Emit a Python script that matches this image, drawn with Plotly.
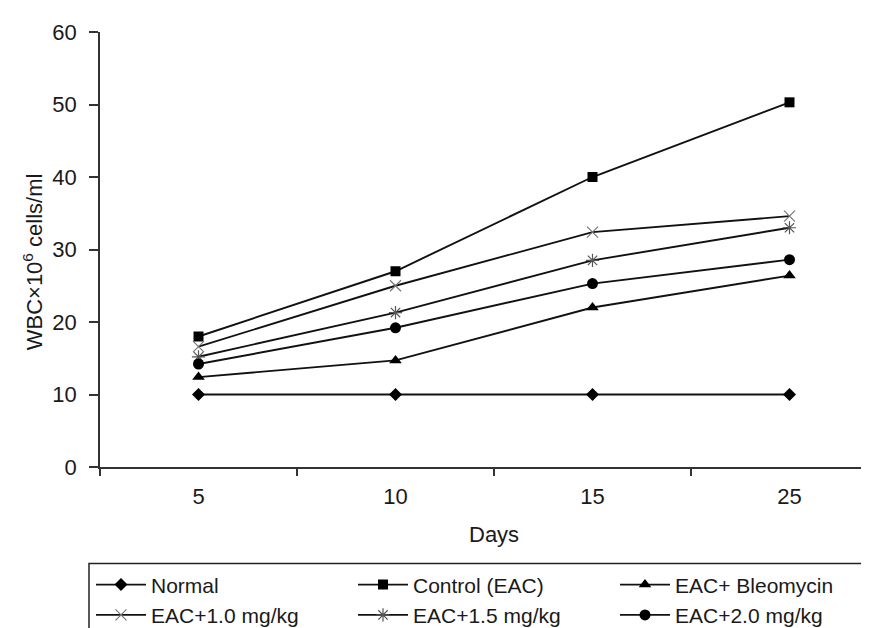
import plotly.graph_objects as go

days = ["5", "10", "15", "25"]
normal = [10.0, 10.0, 10.0, 10.0]
control = [18.0, 27.0, 40.0, 50.3]
bleomycin = [12.4, 14.7, 22.0, 26.4]
eac_1_0 = [16.6, 25.0, 32.4, 34.6]
eac_1_5 = [15.2, 21.3, 28.5, 33.0]
eac_2_0 = [14.2, 19.2, 25.3, 28.6]
y_ticks = [0, 10, 20, 30, 40, 50, 60]

FONT = "Liberation Sans, Arial, sans-serif"
W, H = 869, 628
ML, MR, MT, MB = 92, 0, 24, 162
PW = W - ML - MR
PH = H - MT - MB

def px_x(x):
    return (x - ML) / PW

def px_y(y):
    return (H - MB - y) / PH

series = [
    ("Normal", normal, dict(symbol="diamond", size=10, color="black")),
    ("Control (EAC)", control, dict(symbol="square", size=10, color="black")),
    ("EAC+ Bleomycin", bleomycin, dict(symbol="triangle-up", size=11, color="black")),
    ("EAC+1.0 mg/kg", eac_1_0, dict(symbol="x-thin-open", size=11, color="#777777",
                                    line=dict(width=1.2, color="#777777"))),
    ("EAC+1.5 mg/kg", eac_1_5, dict(symbol="asterisk-open", size=11, color="#555555",
                                    line=dict(width=1.2, color="#555555"))),
    ("EAC+2.0 mg/kg", eac_2_0, dict(symbol="circle", size=11, color="black")),
]

fig = go.Figure()
for name, vals, mk in series:
    fig.add_trace(go.Scatter(
        x=days, y=vals, name=name, mode="lines+markers",
        line=dict(color="#111111", width=1.9),
        marker=mk,
    ))

fig.update_layout(
    width=W, height=H,
    margin=dict(l=ML, r=MR, t=MT, b=MB, pad=0),
    paper_bgcolor="white", plot_bgcolor="white",
    font=dict(family=FONT, size=21, color="#1a1a1a"),
    showlegend=True,
    legend=dict(
        orientation="h", x=-0.0005, y=px_y(565), xanchor="left", yanchor="top",
        itemwidth=50, entrywidth=197, entrywidthmode="pixels",
        bgcolor="rgba(0,0,0,0)", borderwidth=0,
        font=dict(family=FONT, size=21, color="#1a1a1a"),
        traceorder="normal", itemclick=False,
    ),
)

fig.update_xaxes(
    type="category", categoryorder="array", categoryarray=days,
    range=[-0.5, -0.5 + (W - ML) / 197.0],
    showline=True, linecolor="#333333", linewidth=1.5,
    ticks="outside", ticklen=7, tickcolor="#333333", tickwidth=1.5,
    tickson="boundaries", ticklabelstandoff=9,
    showgrid=False, zeroline=False,
    tickfont=dict(family=FONT, size=22, color="#1a1a1a"),
)
fig.update_yaxes(
    range=[0, 60], tickvals=y_ticks,
    showline=True, linecolor="#333333", linewidth=1.5,
    ticks="outside", ticklen=9, tickcolor="#333333", tickwidth=1.5,
    ticklabelstandoff=8,
    showgrid=False, zeroline=False,
    tickfont=dict(family=FONT, size=22, color="#1a1a1a"),
)

fig.add_annotation(
    text="WBC×10<sup>6</sup> cells/ml", xref="paper", yref="paper",
    x=px_x(25), y=px_y(258), xanchor="center", yanchor="middle",
    textangle=-90, showarrow=False,
    font=dict(family=FONT, size=22, color="#1a1a1a"),
)
fig.add_annotation(
    text="Days", xref="paper", yref="paper",
    x=px_x(486), y=px_y(535), xanchor="center", yanchor="middle",
    showarrow=False,
    font=dict(family=FONT, size=22, color="#1a1a1a"),
)
fig.add_shape(
    type="rect", xref="paper", yref="paper",
    x0=px_x(81), x1=px_x(862), y0=px_y(564), y1=px_y(640),
    line=dict(color="#222222", width=1.5), fillcolor="rgba(0,0,0,0)",
)

fig.write_html("out.html")
